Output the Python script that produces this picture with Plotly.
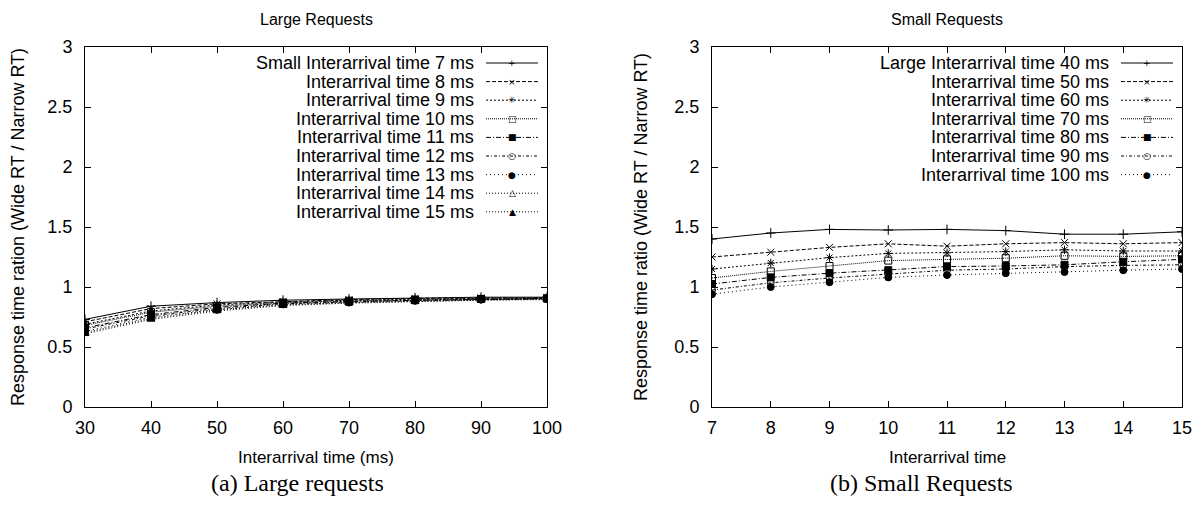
import plotly.graph_objects as go

# the page body keeps an 8px margin, so the figure is sized to fit inside it
PAGE_W, PAGE_H = 1201, 507
OFF = 8
W, H = PAGE_W - 2 * OFF, PAGE_H - 2 * OFF

# ---- data: left panel (Large Requests) ----
large_x = [30, 40, 50, 60, 70, 80, 90, 100]
large_names = [
    "Small Interarrival time 7 ms", "Interarrival time 8 ms", "Interarrival time 9 ms",
    "Interarrival time 10 ms", "Interarrival time 11 ms", "Interarrival time 12 ms",
    "Interarrival time 13 ms", "Interarrival time 14 ms", "Interarrival time 15 ms",
]
large_7 = [0.73, 0.84, 0.87, 0.89, 0.90, 0.91, 0.915, 0.915]
large_8 = [0.71, 0.82, 0.86, 0.88, 0.895, 0.905, 0.91, 0.91]
large_9 = [0.69, 0.80, 0.85, 0.875, 0.89, 0.90, 0.905, 0.91]
large_10 = [0.68, 0.79, 0.84, 0.87, 0.885, 0.895, 0.90, 0.905]
large_11 = [0.66, 0.77, 0.83, 0.865, 0.88, 0.89, 0.90, 0.905]
large_12 = [0.65, 0.76, 0.82, 0.86, 0.875, 0.89, 0.895, 0.90]
large_13 = [0.63, 0.75, 0.81, 0.855, 0.87, 0.885, 0.895, 0.90]
large_14 = [0.62, 0.74, 0.81, 0.85, 0.87, 0.88, 0.89, 0.90]
large_15 = [0.61, 0.73, 0.80, 0.845, 0.865, 0.88, 0.89, 0.895]
large_series = [large_7, large_8, large_9, large_10, large_11, large_12,
                large_13, large_14, large_15]

# ---- data: right panel (Small Requests) ----
small_x = [7, 8, 9, 10, 11, 12, 13, 14, 15]
small_names = [
    "Large Interarrival time 40 ms", "Interarrival time 50 ms", "Interarrival time 60 ms",
    "Interarrival time 70 ms", "Interarrival time 80 ms", "Interarrival time 90 ms",
    "Interarrival time 100 ms",
]
small_40 = [1.40, 1.45, 1.48, 1.475, 1.48, 1.47, 1.44, 1.44, 1.46]
small_50 = [1.25, 1.29, 1.33, 1.36, 1.34, 1.36, 1.37, 1.36, 1.37]
small_60 = [1.15, 1.20, 1.245, 1.28, 1.285, 1.295, 1.31, 1.30, 1.30]
small_70 = [1.075, 1.13, 1.175, 1.22, 1.23, 1.24, 1.26, 1.255, 1.26]
small_80 = [1.025, 1.08, 1.115, 1.14, 1.17, 1.175, 1.185, 1.21, 1.23]
small_90 = [0.975, 1.035, 1.075, 1.11, 1.14, 1.15, 1.17, 1.18, 1.185]
small_100 = [0.94, 1.00, 1.04, 1.08, 1.10, 1.115, 1.125, 1.14, 1.15]
small_series = [small_40, small_50, small_60, small_70, small_80, small_90, small_100]

# gnuplot-like styles: (dash, plotly symbol, key glyph)
STYLES = [
    ("solid", "cross-thin-open", "+"),
    ("4px,2px", "x-thin-open", "×"),
    ("2px,2px", "asterisk-open", "✳"),
    ("1px,1px", "square-open", "□"),
    ("5px,2px,1px,2px", "square", "■"),
    ("3px,2px,1px,2px", "circle-open", "○"),
    ("1px,3px", "circle", "●"),
    ("1px,2px", "triangle-up-open", "△"),
    ("1px,2px", "triangle-up", "▲"),
]

FONT = "Liberation Sans, Arial, sans-serif"


# positions below are screen pixels; convert to paper fractions
def px(x):
    return (x - OFF) / W


def py(y):
    return 1 - (y - OFF) / H


LEFT = (85, 547)
RIGHT = (712, 1182)
TOP, BOTTOM = 47, 407

fig = go.Figure()
shapes, annos = [], []


def add_panel(xs, series, names, xa, ya, box):
    for i, (vals, name) in enumerate(zip(series, names)):
        dash, sym, glyph = STYLES[i]
        fig.add_trace(go.Scatter(
            x=xs, y=vals, mode="lines+markers", name=name,
            xaxis=xa, yaxis=ya, showlegend=False,
            line=dict(color="black", width=1, dash=dash),
            marker=dict(symbol=sym, size=7, color="black",
                        line=dict(color="black", width=1)),
        ))
        # gnuplot style key: text right aligned, line sample to the right
        yrow = 63 + 18.6 * i
        x1 = box[1] - 9
        x0 = x1 - 52
        shapes.append(dict(type="line", xref="paper", yref="paper",
                           x0=px(x0), x1=px(x1), y0=py(yrow), y1=py(yrow),
                           line=dict(color="black", width=1, dash=dash)))
        annos.append(dict(x=px((x0 + x1) / 2), y=py(yrow), xref="paper", yref="paper",
                          text=glyph, showarrow=False,
                          font=dict(family="DejaVu Sans", size=9, color="black"),
                          xanchor="center", yanchor="middle"))
        annos.append(dict(x=px(x0 - 10), y=py(yrow), xref="paper", yref="paper",
                          text=name, showarrow=False,
                          font=dict(family=FONT, size=18, color="black"),
                          xanchor="right", yanchor="middle"))


add_panel(large_x, large_series, large_names, "x", "y", LEFT)
add_panel(small_x, small_series, small_names, "x2", "y2", RIGHT)

axis_common = dict(showline=True, linecolor="black", linewidth=1, mirror="ticks",
                   ticks="inside", ticklen=6, tickcolor="black", showgrid=False,
                   zeroline=False, automargin=False,
                   tickfont=dict(family=FONT, size=18, color="black"))

fig.update_layout(
    width=W, height=H, autosize=False,
    margin=dict(l=0, r=0, t=0, b=0),
    plot_bgcolor="white", paper_bgcolor="white",
    xaxis=dict(domain=[px(LEFT[0]), px(LEFT[1])], range=[30, 100], dtick=10,
               anchor="y", ticklabelstandoff=4, **axis_common),
    yaxis=dict(domain=[py(BOTTOM), py(TOP)], range=[0, 3], dtick=0.5,
               anchor="x", ticklabelstandoff=8, **axis_common),
    xaxis2=dict(domain=[px(RIGHT[0]), px(RIGHT[1])], range=[7, 15], dtick=1,
                anchor="y2", ticklabelstandoff=4, ticklabeloverflow="allow",
                **axis_common),
    yaxis2=dict(domain=[py(BOTTOM), py(TOP)], range=[0, 3], dtick=0.5,
                anchor="x2", ticklabelstandoff=8, **axis_common),
    shapes=shapes,
)

title_font = dict(family=FONT, size=16, color="black")
axis_font = dict(family=FONT, size=17, color="black")
ytitle_font = dict(family=FONT, size=18, color="black")
cap_font = dict(family="Liberation Serif, Times New Roman, serif", size=24, color="black")
annos += [
    dict(x=px(316), y=py(19), text="Large Requests", font=title_font),
    dict(x=px(947), y=py(19), text="Small Requests", font=title_font),
    dict(x=px(316), y=py(457), text="Interarrival time (ms)", font=axis_font),
    dict(x=px(947), y=py(457), text="Interarrival time", font=axis_font),
    dict(x=px(18), y=py(227), text="Response time ration (Wide RT / Narrow RT)",
         font=ytitle_font, textangle=-90),
    dict(x=px(641), y=py(227), text="Response time ratio (Wide RT / Narrow RT)",
         font=ytitle_font, textangle=-90),
    dict(x=px(297), y=py(483), text="(a) Large requests", font=cap_font),
    dict(x=px(921), y=py(483), text="(b) Small Requests", font=cap_font),
]
for a in annos[-8:]:
    a.update(xref="paper", yref="paper", showarrow=False,
             xanchor="center", yanchor="middle")
fig.update_layout(annotations=annos)

fig.write_html("out.html")
